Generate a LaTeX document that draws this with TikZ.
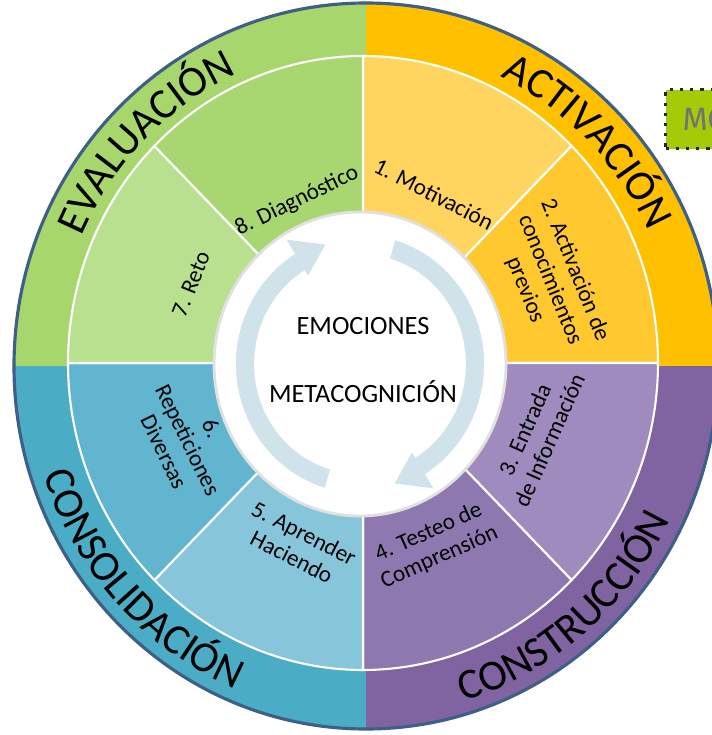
\documentclass[tikz,border=0pt]{standalone}
\usepackage{fontspec}
\setmainfont{Carlito}
\newfontfamily\mofont{Fira Sans}
\usetikzlibrary{decorations.text}

\definecolor{actOut}{HTML}{FFC000}
\definecolor{actA}{HTML}{FFD45F}
\definecolor{actB}{HTML}{FFC82E}
\definecolor{conOut}{HTML}{8064A2}
\definecolor{conA}{HTML}{A08BBE}
\definecolor{conB}{HTML}{8E78B0}
\definecolor{solOut}{HTML}{4BACC6}
\definecolor{solA}{HTML}{86C5DA}
\definecolor{solB}{HTML}{62B5CF}
\definecolor{evaOut}{HTML}{A6D66C}
\definecolor{evaA}{HTML}{B9E08F}
\definecolor{evaB}{HTML}{A8D771}
\definecolor{rim}{HTML}{3E5F86}
\definecolor{cyc}{HTML}{D0E2EA}
\definecolor{mobox}{HTML}{A5CA08}

\newcommand\bandfont{\fontsize{12.2}{12}\selectfont}

\tikzset{
    band/.style={decorate, decoration={text along path, text align=center,
        text={|\bandfont|#1}}},
    cycarrow/.style={fill=cyc, draw=white, line width=0.5pt}
}

\begin{document}
\begin{tikzpicture}
            \useasboundingbox (0,0) rectangle (7.12,7.35);
            \clip (0,0) rectangle (7.12,7.35);

            \coordinate (O) at (3.66,3.69);
            \coordinate (I) at (3.63,3.72);
            \coordinate (W) at (3.60,3.71);

            % outer band
            \begin{scope}[shift={(O)}]
                \foreach \a/\c in {90/actOut, 0/conOut, -90/solOut, 180/evaOut}
                    \fill[\c] (0,0) -- (\a:3.52 and 3.63)
                        arc[start angle=\a, delta angle=-90, x radius=3.52, y radius=3.63] -- cycle;
            \end{scope}

            % eight steps
            \begin{scope}[shift={(I)}]
                \foreach \a/\c in {90/actA, 45/actB, 0/conA, -45/conB, -90/solA, -135/solB, 180/evaA, 135/evaB}
                    \filldraw[fill=\c, draw=white, line width=0.6pt] (0,0) -- (\a:2.95 and 3.07)
                        arc[start angle=\a, delta angle=-45, x radius=2.95, y radius=3.07] -- cycle;
            \end{scope}

            \filldraw[fill=white, draw=black!12, line width=0.8pt] (W) ellipse [x radius=1.46, y radius=1.52];

            % cycle arrows
            \foreach \r in {0,180}{
                \begin{scope}[shift={(W)}, rotate=\r]
                    \filldraw[cycarrow] (254:1.05 and 1.09)
                        arc[start angle=254, end angle=122, x radius=1.05, y radius=1.09]
                        -- (122:0.98 and 1.02) -- (106:1.2 and 1.25) -- (122:1.42 and 1.48)
                        -- (122:1.25 and 1.30)
                        arc[start angle=122, end angle=254, x radius=1.25, y radius=1.30] -- cycle;
                \end{scope}
            }

            \draw[rim, line width=0.9pt] (O) ellipse [x radius=3.52, y radius=3.63];

            % phase names
            \begin{scope}[shift={(O)}]
                \path[band=EVALUACIÓN] (180:3.11 and 3.21)
                    arc[start angle=180, end angle=90, x radius=3.11, y radius=3.21];
                \path[band=ACTIVACIÓN] (90:3.11 and 3.21)
                    arc[start angle=90, end angle=0, x radius=3.11, y radius=3.21];
                \path[band=CONSOLIDACIÓN] (178:3.39 and 3.50)
                    arc[start angle=178, end angle=268, x radius=3.39, y radius=3.50];
                \path[band=CONSTRUCCIÓN] (265:3.39 and 3.50)
                    arc[start angle=265, end angle=355, x radius=3.39, y radius=3.50];
            \end{scope}

            \begin{scope}[
                    every node/.style={font=\fontsize{6.6}{7.6}\selectfont, align=center, inner sep=0pt}
                ]
                \node[rotate=-27] (s1) at (4.34,5.41) {1. Motivación};
                \node[rotate=-68] (s2) at (5.50,4.55) {2. Activación de\\conocimientos\\previos};
                \node[rotate=66] (s3) at (5.37,3.00) {3. Entrada\\de Información};
                \node[rotate=24] (s4) at (4.34,1.90) {4. Testeo de\\Comprensión};
                \node[rotate=-27] (s5) at (2.98,1.90) {5. Aprender\\Haciendo};
                \node[rotate=-64] (s6) at (1.88,2.95) {6.\\Repeticiones\\Diversas};
                \node[rotate=68] (s7) at (1.91,4.51) {7. Reto};
                \node[rotate=26] (s8) at (2.97,5.34) {8. Diagnóstico};
            \end{scope}

            \node[font=\fontsize{7.5}{8}\selectfont] (emo) at (3.63,4.09) {EMOCIONES};
            \node[font=\fontsize{7.5}{8}\selectfont] (meta) at (3.63,3.43) {METACOGNICIÓN};

            \node[anchor=north west, fill=mobox, draw=black!85, dotted, line width=0.9pt,
                  minimum height=0.59cm, inner xsep=0.17cm, text=black!55,
                  font=\mofont\fontsize{9.2}{10}\selectfont] (mo) at (6.64,6.47) {MO};
        \end{tikzpicture}
\end{document}
